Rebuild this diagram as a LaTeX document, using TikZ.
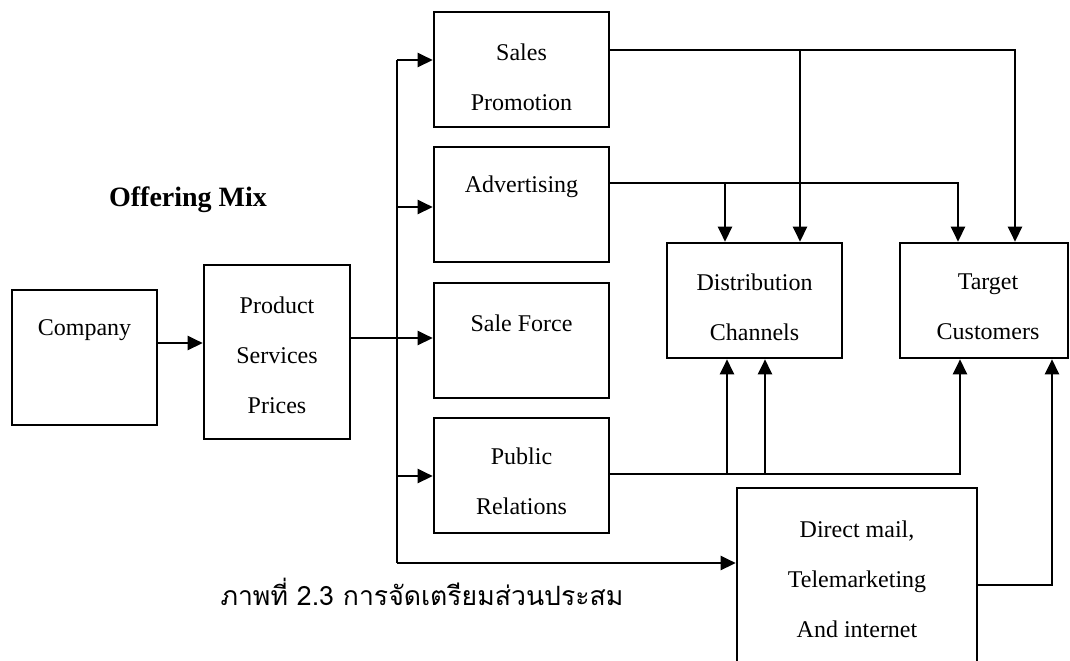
\documentclass[tikz,border=0pt]{standalone}
\usepackage{fontspec}
\setmainfont{Liberation Serif}
\newfontfamily\thaifont[Script=Thai]{Loma}
\usetikzlibrary{arrows.meta}

\tikzset{
  box/.style={draw, line width=1.3pt, inner sep=0pt, minimum width=87.5pt, minimum height=57.5pt},
  txt/.style={align=center, font=\fontsize{12}{25}\selectfont},
  wire/.style={line width=1.2pt},
  arr/.style={line width=1.2pt, -{Triangle[length=7.5pt,width=7pt]}}
}

\begin{document}
\begin{tikzpicture}[x=0.5pt, y=-0.5pt]
  % page frame
  \path[use as bounding box, clip] (0,0) rectangle (1070,660);

  % boxes
  \node[box, minimum width=72.5pt, minimum height=67.5pt] (company) at (84.5,357.5) {};
  \node[box, minimum width=73pt, minimum height=87pt] (product) at (277,352) {};
  \node[box] (promo) at (521.5,69.5) {};
  \node[box] (advert) at (521.5,204.5) {};
  \node[box] (force) at (521.5,340.5) {};
  \node[box] (pr) at (521.5,475.5) {};
  \node[box] (channels) at (754.5,300.5) {};
  \node[box, minimum width=84pt] (target) at (984,300.5) {};
  \node[box, minimum width=120pt, minimum height=91pt] (direct) at (857,579) {};

  % texts
  \node[txt] (company-t) at (84.5,330) {Company};
  \node[txt] (product-t) at (277,355) {Product\\Services\\Prices};
  \node[txt] (promo-t) at (521.5,77) {Sales\\Promotion};
  \node[txt] (advert-t) at (521.5,187) {Advertising};
  \node[txt] (force-t) at (521.5,323) {Sale Force};
  \node[txt] (pr-t) at (521.5,481.5) {Public\\Relations};
  \node[txt] (channels-t) at (754.5,307) {Distribution\\Channels};
  \node[txt] (target-t) at (988,307) {Target\\Customers};
  \node[txt] (direct-t) at (857,579) {Direct mail,\\Telemarketing\\And internet};

  \node[font=\fontsize{14}{16}\selectfont\bfseries] (mix) at (188,200) {Offering Mix};
  \node[font=\thaifont\fontsize{13.3}{16}\selectfont] (caption) at (422,592) {ภาพที่ 2.3 การจัดเตรียมส่วนประสม};

  % junctions
  \coordinate (b1) at (397,60);
  \coordinate (b2) at (397,207);
  \coordinate (b4) at (397,476);
  \coordinate (b5) at (397,563);
  \coordinate (s1) at (800,50);
  \coordinate (s2) at (1015,50);
  \coordinate (a1) at (725,183);
  \coordinate (a2) at (958,183);
  \coordinate (p1) at (727,474);
  \coordinate (p2) at (765,474);
  \coordinate (p3) at (960,474);
  \coordinate (d1) at (1052,585);

  % company to offering mix
  \draw[arr] (company.east |- 0,343) -- (product.west |- 0,343);
  \draw[arr] (product.east |- 0,338) -- (force.west |- 0,338);

  % bus
  \draw[wire] (b1) -- (b5);
  \draw[arr] (b1) -- (promo.west |- b1);
  \draw[arr] (b2) -- (advert.west |- b2);
  \draw[arr] (b4) -- (pr.west |- b4);
  \draw[arr] (b5) -- (direct.west |- b5);

  % sales promotion
  \draw[arr] (promo.east |- s1) -- (s2) -- (s2 |- target.north);
  \draw[arr] (s1) -- (s1 |- channels.north);

  % advertising
  \draw[arr] (advert.east |- a1) -- (a2) -- (a2 |- target.north);
  \draw[arr] (a1) -- (a1 |- channels.north);

  % public relations
  \draw[arr] (pr.east |- p1) -- (p3) -- (p3 |- target.south);
  \draw[arr] (p1) -- (p1 |- channels.south);
  \draw[arr] (p2) -- (p2 |- channels.south);

  % direct mail
  \draw[arr] (direct.east |- d1) -- (d1) -- (d1 |- target.south);
\end{tikzpicture}
\end{document}
